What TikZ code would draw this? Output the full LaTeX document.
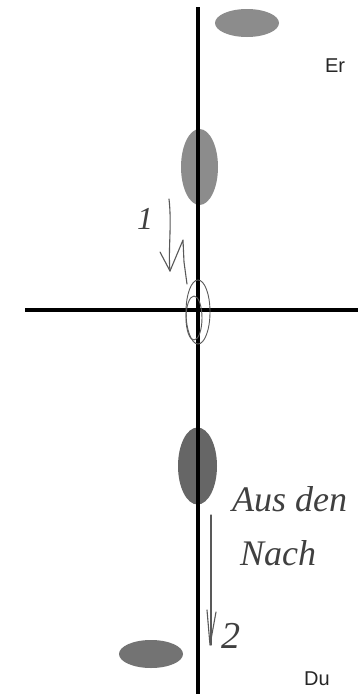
\documentclass[tikz,border=0pt]{standalone}
\usetikzlibrary{shapes.geometric}
\usepackage{fontspec}
\setmainfont{Liberation Sans}
\newfontfamily\handfont{Liberation Serif}
\begin{document}
\begin{tikzpicture}[x=1pt,y=-1pt,
  blob/.style={ellipse,draw=none,fill=#1,inner sep=0pt},
  axis/.style={line width=4.5pt,black},
  hand/.style={draw=black!65,line width=1.1pt,line cap=round,line join=round},
  handtext/.style={text=black!75,font=\handfont\itshape\fontsize{36}{36}\selectfont,inner sep=0pt,anchor=base west},
  lbl/.style={font=\fontsize{20}{20}\selectfont,text=black!85,inner sep=0pt}]
\useasboundingbox (0,0) rectangle (358,694);
\clip (0,0) rectangle (358,694);
\fill[white] (0,0) rectangle (358,694);
% ellipses
\node[blob=black!45,minimum width=64pt,minimum height=28pt] (e1) at (247,23) {};
\node[blob=black!45,minimum width=37pt,minimum height=76pt] (e2) at (199.5,167) {};
\node[blob=black!60,minimum width=39pt,minimum height=77pt] (e3) at (197.5,466) {};
\node[blob=black!55,minimum width=64pt,minimum height=28pt] (e4) at (151,654) {};
% axes
\coordinate (vt) at (198,7);
\coordinate (vb) at (198,694);
\coordinate (hl) at (25,310);
\coordinate (hr) at (358,310);
\draw[axis] (vt) -- (vb);
\draw[axis] (hl) -- (hr);
% labels
\node[lbl] (er) at (335,66) {Er};
\node[lbl] (du) at (317,679) {Du};
% handwritten arrow 1
\node[handtext,font=\handfont\itshape\fontsize{32}{32}\selectfont] (one) at (137,229) {1};
\coordinate (a1s) at (169,199);
\coordinate (a1t) at (170,271);
\draw[hand] (a1s) .. controls (172,225) and (168,250) .. (a1t);
\draw[hand] (160,252) -- (a1t) -- (183,240) -- (184,262) -- (187,284);
\draw[hand,line width=0.9pt] (198,312) ellipse (12 and 32);
\draw[hand,line width=0.9pt] (194,318) ellipse (8 and 22);
% handwritten arrow 2
\coordinate (a2s) at (211,515);
\coordinate (a2t) at (211,645);
\draw[hand] (a2s) -- (a2t);
\draw[hand] (207,610) -- (210,645) -- (216,612);
\node[handtext,font=\handfont\itshape\fontsize{38}{38}\selectfont] (two) at (221,648) {2};
% handwritten text
\node[handtext,font=\handfont\itshape\fontsize{36}{36}\selectfont] (aus) at (232,511) {Aus den};
\node[handtext] (nach) at (240,565) {Nach};
\end{tikzpicture}
\end{document}
